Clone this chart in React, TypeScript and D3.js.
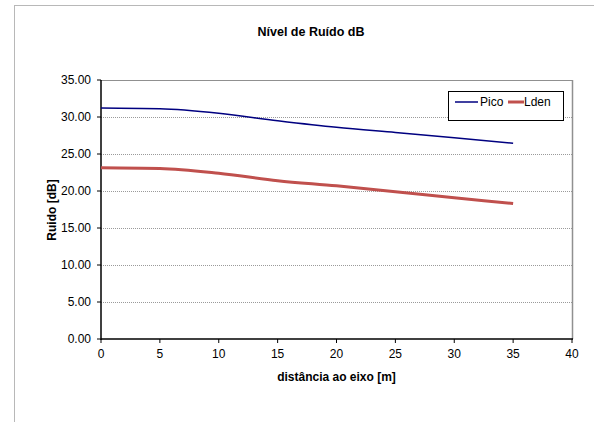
import React from "react";
import * as d3 from "d3";

const distances = [0, 5, 10, 15, 20, 25, 30, 35];
const pico = [31.2, 31.1, 30.5, 29.5, 28.6, 27.9, 27.2, 26.45];
const lden = [23.15, 23.05, 22.4, 21.4, 20.7, 19.9, 19.1, 18.3];
const xTicks = [0, 5, 10, 15, 20, 25, 30, 35, 40];
const yTicks = [0, 5, 10, 15, 20, 25, 30, 35];
const seriesNames = ["Pico", "Lden"];

const FONT = "'Liberation Sans', Arial, sans-serif";

export default function App() {
  const W = 594, H = 422;
  const left = 101, right = 572, top = 80, bottom = 339;
  const x = d3.scaleLinear().domain([0, 40]).range([left, right]);
  const y = d3.scaleLinear().domain([0, 35]).range([bottom, top]);
  const line = d3
    .line<number>()
    .x((_, i) => x(distances[i]))
    .y((d) => y(d))
    .curve(d3.curveMonotoneX);

  return (
    <svg width={W} height={H} style={{ position: "absolute", left: 0, top: 0 }} fontFamily={FONT}>
      <rect x={0} y={0} width={W} height={H} fill="#fff" />
      <rect x={14.5} y={5.5} width={620} height={440} fill="none" stroke="#b8b8b8" strokeWidth={1} />
      <text x={311} y={36} textAnchor="middle" fontSize={12.5} fontWeight="bold" fill="#000">
        Nível de Ruído dB
      </text>
      {/* gridlines */}
      {yTicks.filter((t) => t > 0 && t < 35).map((t) => (
        <line key={t} x1={left} x2={right} y1={Math.round(y(t)) + 0.5} y2={Math.round(y(t)) + 0.5}
          stroke="#9a9a9a" strokeWidth={1} strokeDasharray="1,1" />
      ))}
      {/* top and right border */}
      <line x1={left} x2={right} y1={top + 0.5} y2={top + 0.5} stroke="#909090" strokeWidth={1} />
      <line x1={right + 0.5} x2={right + 0.5} y1={top} y2={bottom} stroke="#909090" strokeWidth={1.5} />
      {/* axes */}
      <line x1={left} x2={left} y1={top} y2={bottom + 1} stroke="#000" strokeWidth={1.5} />
      <line x1={left} x2={right + 1} y1={bottom} y2={bottom} stroke="#000" strokeWidth={1.5} />
      {yTicks.map((t) => (
        <g key={t}>
          <line x1={left - 4} x2={left} y1={y(t)} y2={y(t)} stroke="#000" strokeWidth={1} />
          <text x={91} y={y(t)} dy="0.35em" textAnchor="end" fontSize={12} fill="#000">
            {t.toFixed(2)}
          </text>
        </g>
      ))}
      {xTicks.map((t) => (
        <g key={t}>
          <line x1={x(t)} x2={x(t)} y1={bottom} y2={bottom + 4} stroke="#000" strokeWidth={1} />
          <text x={x(t)} y={354} dy="0.35em" textAnchor="middle" fontSize={12} fill="#000">
            {t}
          </text>
        </g>
      ))}
      <text x={336.5} y={377} dy="0.35em" textAnchor="middle" fontSize={12} fontWeight="bold" fill="#000">
        distância ao eixo [m]
      </text>
      <text transform="translate(52,210) rotate(-90)" dy="0.35em" textAnchor="middle" fontSize={12} fontWeight="bold" fill="#000">
        Ruido [dB]
      </text>
      {/* series */}
      <path d={line(pico) || ""} fill="none" stroke="#000080" strokeWidth={1.5} />
      <path d={line(lden) || ""} fill="none" stroke="#c0504d" strokeWidth={3} />
      {/* legend */}
      <rect x={448.5} y={91.5} width={115} height={29} fill="#fff" stroke="#000" strokeWidth={1} />
      <line x1={455} x2={478} y1={102} y2={102} stroke="#000080" strokeWidth={1.5} />
      <text x={480} y={102} dy="0.35em" fontSize={12} fill="#000">{seriesNames[0]}</text>
      <line x1={508} x2={524} y1={102} y2={102} stroke="#c0504d" strokeWidth={3} />
      <text x={524} y={102} dy="0.35em" fontSize={12} fill="#000">{seriesNames[1]}</text>
    </svg>
  );
}
